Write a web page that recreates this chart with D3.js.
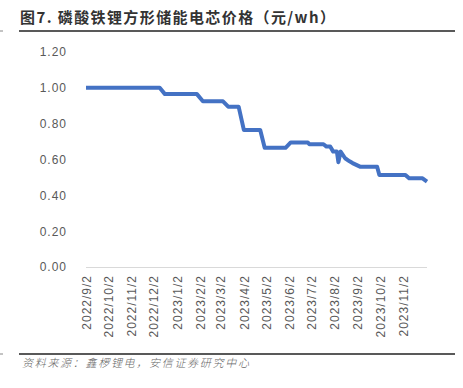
<!DOCTYPE html>
<html>
<head>
<meta charset="utf-8">
<script src="https://cdn.jsdelivr.net/npm/d3@7"></script>
<style>
  body { margin: 0; background: #fff; }
  svg { display: block; }
</style>
</head>
<body>
<svg id="chart" width="463" height="388"></svg>
<script>
// chart data
const title = "图7. 磷酸铁锂方形储能电芯价格（元/wh）";
const source = "资料来源：鑫椤锂电，安信证券研究中心";
const dates = ["2022-09-02", "2022-12-10", "2022-12-17", "2023-01-29", "2023-02-06",
  "2023-03-05", "2023-03-12", "2023-03-26", "2023-04-02", "2023-04-24", "2023-04-30",
  "2023-05-28", "2023-06-04", "2023-06-27", "2023-06-29", "2023-07-18", "2023-07-22",
  "2023-07-27", "2023-07-31", "2023-08-05", "2023-08-07", "2023-08-10", "2023-08-16",
  "2023-08-22", "2023-08-26", "2023-08-31", "2023-09-05", "2023-09-28", "2023-10-01",
  "2023-11-05", "2023-11-10", "2023-11-28", "2023-12-04"];
const prices = [1.00, 1.00, 0.965, 0.965, 0.925,
  0.925, 0.895, 0.895, 0.765, 0.765, 0.665,
  0.665, 0.695, 0.695, 0.685, 0.685, 0.672,
  0.672, 0.644, 0.644, 0.585, 0.644, 0.607,
  0.590, 0.580, 0.570, 0.560, 0.560, 0.514,
  0.514, 0.495, 0.495, 0.477];
const xTickDates = ["2022-09-02", "2022-10-02", "2022-11-02", "2022-12-02", "2023-01-02",
  "2023-02-02", "2023-03-02", "2023-04-02", "2023-05-02", "2023-06-02", "2023-07-02",
  "2023-08-02", "2023-09-02", "2023-10-02", "2023-11-02"];
const yTicks = [0, 0.2, 0.4, 0.6, 0.8, 1.0, 1.2];

const svg = d3.select("#chart");
const parse = d3.timeParse("%Y-%m-%d");
const data = dates.map((d, i) => ({ date: parse(d), value: prices[i] }));

const plot = { left: 86, right: 427, top: 52, bottom: 267 };

const x = d3.scaleTime()
  .domain([parse(dates[0]), parse(dates[dates.length - 1])])
  .range([plot.left, plot.right]);
const y = d3.scaleLinear().domain([0, 1.2]).range([plot.bottom, plot.top]);

// title and rules
svg.append("text")
  .attr("x", 20).attr("y", 23)
  .attr("font-family", "'Noto Sans CJK SC', sans-serif")
  .attr("font-size", 15).attr("font-weight", 600)
  .attr("letter-spacing", 1.4)
  .attr("fill", "#333")
  .text(title);
svg.append("line").attr("x1", 19).attr("x2", 455).attr("y1", 31).attr("y2", 31)
  .attr("stroke", "#222").attr("stroke-width", 1.3);
svg.append("line").attr("x1", 0).attr("x2", 3).attr("y1", 31).attr("y2", 31)
  .attr("stroke", "#888").attr("stroke-width", 1);
svg.append("line").attr("x1", 19).attr("x2", 455).attr("y1", 354).attr("y2", 354)
  .attr("stroke", "#222").attr("stroke-width", 1.3);
svg.append("line").attr("x1", 0).attr("x2", 3).attr("y1", 354).attr("y2", 354)
  .attr("stroke", "#888").attr("stroke-width", 1);
svg.append("text")
  .attr("x", 22).attr("y", 367)
  .attr("font-family", "'Noto Sans CJK SC', sans-serif")
  .attr("font-size", 11).attr("font-style", "italic").attr("font-weight", 300)
  .attr("letter-spacing", 1.7)
  .attr("fill", "#666")
  .text(source);

// y axis labels
const yAxis = d3.axisLeft(y).tickValues(yTicks).tickFormat(d3.format(".2f")).tickSize(0).tickPadding(0);
const gy = svg.append("g").attr("transform", "translate(67,0)").call(yAxis);
gy.select(".domain").remove();
gy.selectAll("text")
  .attr("font-family", "'Liberation Sans', Arial, sans-serif")
  .attr("font-size", 12).attr("letter-spacing", 1)
  .attr("fill", "#595959");

// x axis
const xAxis = d3.axisBottom(x).tickValues(xTickDates.map(parse))
  .tickFormat(d3.timeFormat("%Y/%-m/%-d")).tickSize(0).tickPadding(0);
const gx = svg.append("g").attr("transform", `translate(0,${plot.bottom})`).call(xAxis);
gx.select(".domain").attr("stroke", "#d9d9d9").attr("d", `M${plot.left},0.5H${plot.right}`);
gx.selectAll("text")
  .attr("font-family", "'Liberation Sans', Arial, sans-serif")
  .attr("font-size", 12).attr("letter-spacing", 1)
  .attr("fill", "#595959")
  .attr("text-anchor", "end")
  .attr("dy", "0.35em")
  .attr("transform", "translate(0,8) rotate(-90)")
  .attr("y", 0).attr("x", 0);

// line
const line = d3.line().x(d => x(d.date)).y(d => y(d.value));
svg.append("path")
  .datum(data)
  .attr("fill", "none")
  .attr("stroke", "#4472C4")
  .attr("stroke-width", 4)
  .attr("stroke-linejoin", "round")
  .attr("d", line);
</script>
</body>
</html>
